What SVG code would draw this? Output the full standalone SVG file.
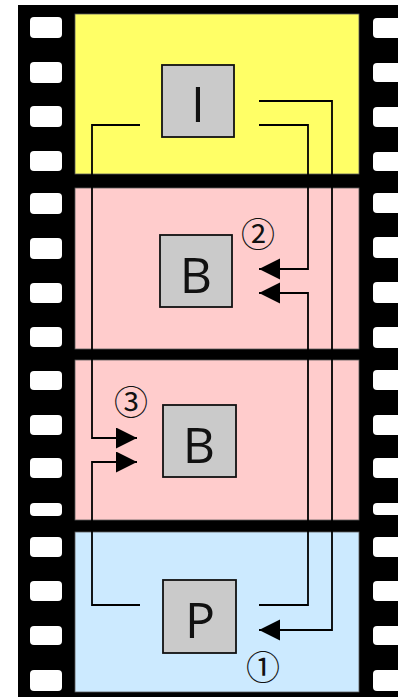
<svg xmlns="http://www.w3.org/2000/svg" width="398" height="697" viewBox="0 0 398 697">
  <style>
    .hole { fill: #ffffff; }
    .frame { stroke: #5a5a5a; stroke-width: 0.8; }
    .box { fill: #cacaca; stroke: #111; stroke-width: 1.8; }
    .letter { font-family: "Open Sans", "Liberation Sans", sans-serif; font-size: 50px; fill: #111; text-anchor: middle; }
    .num { font-family: "Noto Sans CJK JP", "DejaVu Sans", sans-serif; font-size: 34px; fill: #111; text-anchor: middle; }
    .wire { fill: none; stroke: #000; stroke-width: 1.8; marker-end: url(#head); }
  </style>
  <defs>
    <marker id="head" markerUnits="userSpaceOnUse" markerWidth="22" markerHeight="22" refX="21" refY="10.5" orient="auto">
      <path d="M0,0 L21,10.5 L0,21 Z" fill="#000"/>
    </marker>
    <filter id="soft" x="-10%" y="-10%" width="120%" height="120%">
      <feGaussianBlur stdDeviation="0.6"/>
    </filter>
  </defs>

  <!-- film strip -->
  <g id="film">
    <rect x="18" y="5" width="390" height="700" fill="#000"/>
    <g id="sprockets-left" filter="url(#soft)">
      <rect class="hole" x="30" y="17" width="32" height="21" rx="4"/>
      <rect class="hole" x="30" y="62" width="32" height="21" rx="4"/>
      <rect class="hole" x="30" y="106" width="32" height="21" rx="4"/>
      <rect class="hole" x="30" y="151" width="32" height="20" rx="4"/>
      <rect class="hole" x="30" y="193" width="32" height="21" rx="4"/>
      <rect class="hole" x="30" y="238" width="32" height="21" rx="4"/>
      <rect class="hole" x="30" y="283" width="32" height="20" rx="4"/>
      <rect class="hole" x="30" y="327" width="32" height="20" rx="4"/>
      <rect class="hole" x="30" y="371" width="32" height="19" rx="4"/>
      <rect class="hole" x="30" y="415" width="32" height="20" rx="4"/>
      <rect class="hole" x="30" y="458" width="32" height="20" rx="4"/>
      <rect class="hole" x="30" y="503" width="32" height="13" rx="4"/>
      <rect class="hole" x="30" y="537" width="32" height="20" rx="4"/>
      <rect class="hole" x="30" y="581" width="32" height="20" rx="4"/>
      <rect class="hole" x="30" y="626" width="32" height="19" rx="4"/>
      <rect class="hole" x="30" y="670" width="32" height="21" rx="4"/>
    </g>
    <g id="sprockets-right" filter="url(#soft)">
      <rect class="hole" x="373" y="18" width="32" height="20" rx="4"/>
      <rect class="hole" x="373" y="63" width="32" height="19" rx="4"/>
      <rect class="hole" x="373" y="107" width="32" height="20" rx="4"/>
      <rect class="hole" x="373" y="152" width="32" height="19" rx="4"/>
      <rect class="hole" x="373" y="193" width="32" height="20" rx="4"/>
      <rect class="hole" x="373" y="237" width="32" height="21" rx="4"/>
      <rect class="hole" x="373" y="282" width="32" height="21" rx="4"/>
      <rect class="hole" x="373" y="327" width="32" height="21" rx="4"/>
      <rect class="hole" x="373" y="370" width="32" height="20" rx="4"/>
      <rect class="hole" x="373" y="415" width="32" height="20" rx="4"/>
      <rect class="hole" x="373" y="458" width="32" height="20" rx="4"/>
      <rect class="hole" x="373" y="503" width="32" height="12" rx="4"/>
      <rect class="hole" x="373" y="537" width="32" height="20" rx="4"/>
      <rect class="hole" x="373" y="581" width="32" height="20" rx="4"/>
      <rect class="hole" x="373" y="626" width="32" height="19" rx="4"/>
      <rect class="hole" x="373" y="670" width="32" height="21" rx="4"/>
    </g>
    <!-- frames -->
    <rect class="frame" x="75" y="14" width="284" height="160" fill="#ffff66"/>
    <rect class="frame" x="75" y="188" width="284" height="161" fill="#ffcccc"/>
    <rect class="frame" x="75" y="360" width="284" height="160" fill="#ffcccc"/>
    <rect class="frame" x="75" y="532" width="284" height="160" fill="#cceaff"/>
  </g>

  <!-- references between frames -->
  <g id="connectors">
    <path class="wire" d="M259,101 H332 V630 H259"/>
    <path class="wire" d="M259,125 H308 V269 H259"/>
    <path class="wire" d="M259,605 H308 V293 H259"/>
    <path class="wire" d="M140,125 H92 V438 H137"/>
    <path class="wire" d="M140,605 H92 V462 H137"/>
    <text class="num" x="263" y="680">①</text>
    <text class="num" x="258" y="247">②</text>
    <text class="num" x="131" y="415">③</text>
  </g>

  <g id="node-I">
    <rect class="box" x="162" y="65" width="72" height="72" stroke-width="2.4"/>
    <text class="letter" x="198" y="122">I</text>
  </g>
  <g id="node-B1">
    <rect class="box" x="160" y="235" width="72" height="72"/>
    <text class="letter" x="196" y="293">B</text>
  </g>
  <g id="node-B2">
    <rect class="box" x="163" y="405" width="73" height="72"/>
    <text class="letter" x="199" y="463">B</text>
  </g>
  <g id="node-P">
    <rect class="box" x="163" y="580" width="73" height="73"/>
    <text class="letter" x="200" y="638">P</text>
  </g>
</svg>
